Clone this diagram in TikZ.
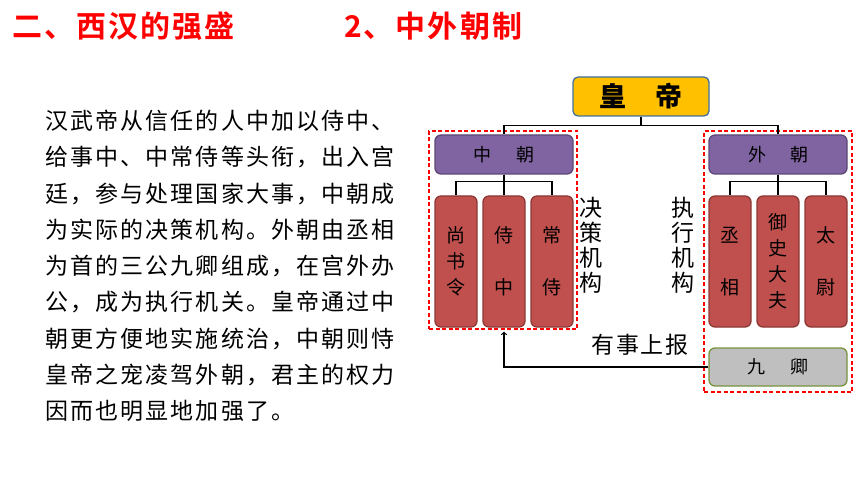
\documentclass[tikz,border=0pt]{standalone}
\usepackage{fontspec}
\usetikzlibrary{arrows}
\newfontfamily\cjk{Noto Sans CJK SC}
\newfontfamily\cjkwide[LetterSpace=9.2]{Noto Sans CJK SC}
\newfontfamily\cjklabel[LetterSpace=7.5]{Noto Sans CJK SC}
\newfontfamily\cjktitle[LetterSpace=6.8]{Noto Sans CJK SC Bold}
\definecolor{goldfill}{RGB}{255,192,0}
\definecolor{goldline}{RGB}{65,113,156}
\definecolor{chaofill}{RGB}{128,100,162}
\definecolor{chaoline}{RGB}{92,71,118}
\definecolor{guanfill}{RGB}{192,80,77}
\definecolor{guanline}{RGB}{140,56,54}
\definecolor{qingfill}{RGB}{191,191,191}
\definecolor{qingline}{RGB}{119,147,60}

\begin{document}
\begin{tikzpicture}[
      x=1pt,y=-1pt,
      emperor/.style={
        draw=goldline,
        fill=goldfill,
        line width=1.3pt,
        rounded corners=5pt,
        minimum width=136pt,
        minimum height=39pt,
        font=\cjk\bfseries\fontsize{27}{27}\selectfont
      },
      chao/.style={
        draw=chaoline,
        fill=chaofill,
        line width=1.3pt,
        rounded corners=6pt,
        minimum width=138pt,
        minimum height=39pt,
        font=\cjk\fontsize{18}{18}\selectfont
      },
      guan/.style={
        draw=guanline,
        fill=guanfill,
        line width=1.3pt,
        rounded corners=6pt,
        minimum width=42pt,
        minimum height=131pt,
        inner sep=0pt,
        align=center,
        font=\cjk\fontsize{19}{26}\selectfont
      },
      qing/.style={
        draw=qingline,
        fill=qingfill,
        line width=1.3pt,
        rounded corners=6pt,
        minimum width=138pt,
        minimum height=38pt,
        font=\cjk\fontsize{18}{18}\selectfont
      },
      frame/.style={
        draw=red,
        dash pattern=on 4pt off 2.5pt,
        line width=1.2pt,
        inner sep=0pt
      },
      link/.style={
        black,
        line width=1.6pt
      }
    ]
      \useasboundingbox (0,0) rectangle (860,484);

      % titles
      \node (title1) at (12,26) [anchor=west,inner sep=0pt,text=red,font=\cjktitle\fontsize{30}{30}\selectfont]{二、西汉的强盛};
      \node (title2) at (344,26) [anchor=west,inner sep=0pt,text=red,font=\cjktitle\fontsize{30}{30}\selectfont]{2、中外朝制};

      % body text
      \node (body) at (45,110) [anchor=north west,inner sep=0pt,align=left,font=\cjkwide\fontsize{23}{36.25}\selectfont]{%
        汉武帝从信任的人中加以侍中、\\
        给事中、中常侍等头衔，出入宫\\
        廷，参与处理国家大事，中朝成\\
        为实际的决策机构。外朝由丞相\\
        为首的三公九卿组成，在宫外办\\
        公，成为执行机关。皇帝通过中\\
        朝更方便地实施统治，中朝则恃\\
        皇帝之宠凌驾外朝，君主的权力\\
        因而也明显地加强了。};

      % dashed frames
      \node (zframe) at (503,230) [frame,minimum width=148pt,minimum height=198pt]{};
      \node (wframe) at (778,261.5) [frame,minimum width=148pt,minimum height=261pt]{};

      % boxes
      \node (huangdi) at (641,96.5) [emperor]{皇\hspace{29pt}帝};
      \node (zhongchao) at (504,154.5) [chao]{中\hspace{25pt}朝};
      \node (waichao) at (778,154.5) [chao]{外\hspace{24pt}朝};
      \node (shangshu) at (456,261.5) [guan]{尚\\书\\令};
      \node (shizhong) at (504,261.5) [guan]{侍\\[26pt]中};
      \node (changshi) at (552,261.5) [guan]{常\\[26pt]侍};
      \node (chengxiang) at (730,261.5) [guan]{丞\\[26pt]相};
      \node (yushi) at (778,261.5) [guan]{御\\史\\大\\夫};
      \node (taiwei) at (826,261.5) [guan]{太\\[26pt]尉};
      \node (jiuqing) at (778,367) [qing]{九\hspace{25pt}卿};

      % side labels
      \node (juece) at (591,245.5) [align=center,inner sep=0pt,font=\cjk\fontsize{23}{25}\selectfont]{决\\策\\机\\构};
      \node (zhixing) at (683,245.5) [align=center,inner sep=0pt,font=\cjk\fontsize{23}{25}\selectfont]{执\\行\\机\\构};
      \node (shangbao) at (640,345) [inner sep=0pt,font=\cjklabel\fontsize{23}{23}\selectfont]{有事上报};

      % connectors
      \draw[link] (huangdi.south) -- ++(0,9) -| (zhongchao.north);
      \draw[link] (huangdi.south) -- ++(0,9) -| (waichao.north);
      \draw[link] (zhongchao.south) -- ++(0,7) -| (shangshu.north);
      \draw[link] (zhongchao.south) -- ++(0,7) -| (changshi.north);
      \draw[link] (zhongchao) -- (shizhong);
      \draw[link] (waichao.south) -- ++(0,7) -| (chengxiang.north);
      \draw[link] (waichao.south) -- ++(0,7) -| (taiwei.north);
      \draw[link] (waichao) -- (yushi);
      \draw[link,->,line width=1.2pt,shorten >=4pt] (jiuqing.west) -| (shizhong.south);

    \end{tikzpicture}
\end{document}
